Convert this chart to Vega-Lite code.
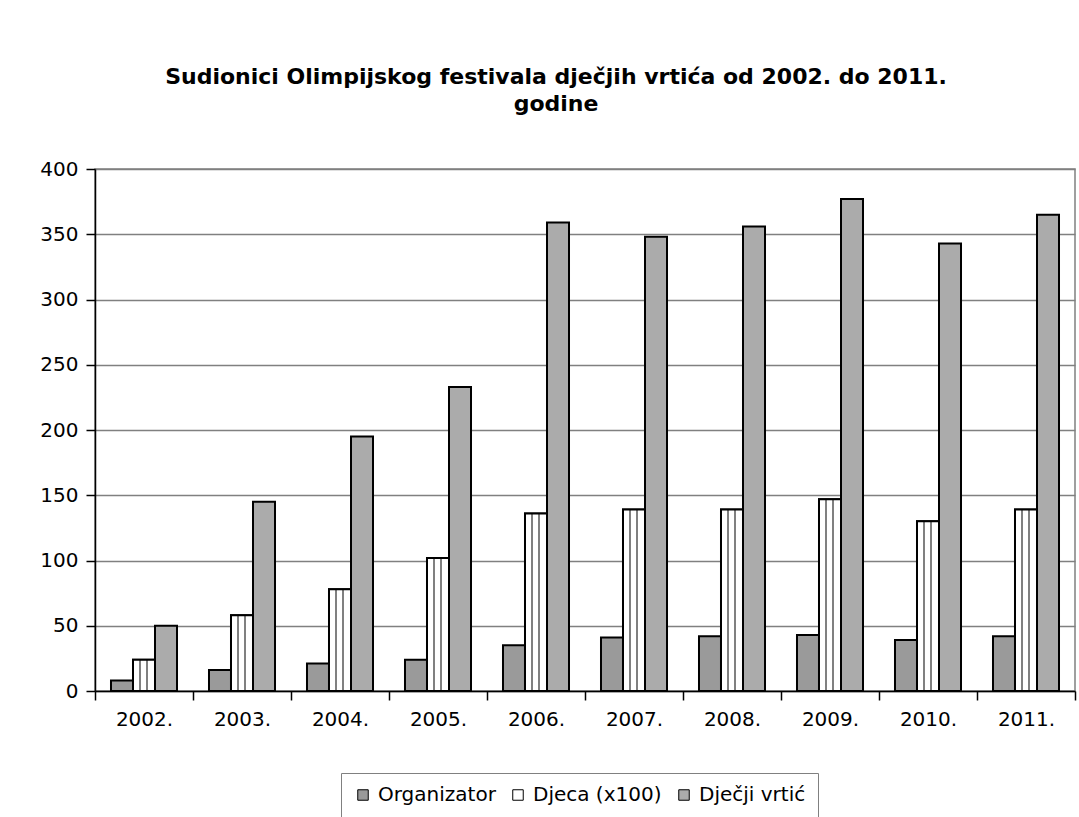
{
  "$schema": "https://vega.github.io/schema/vega-lite/v6.json",
  "autosize": {"type": "none"},
  "width": 980,
  "height": 522,
  "padding": {"left": 95, "top": 169, "right": 4, "bottom": 126},
  "background": "white",
  "title": {
    "text": ["Sudionici Olimpijskog festivala dječjih vrtića od 2002. do 2011.", "godine"],
    "font": "DejaVu Sans",
    "fontSize": 22,
    "fontWeight": "bold",
    "color": "black",
    "anchor": "middle",
    "dx": -29,
    "offset": 43,
    "lineHeight": 27
  },
  "config": {
    "view": {"stroke": "#808080", "strokeWidth": 1.5},
    "font": "DejaVu Sans"
  },
  "data": {
    "values": [
      {"year": "2002.", "series": "Organizator", "value": 8},
      {"year": "2002.", "series": "Djeca (x100)", "value": 24},
      {"year": "2002.", "series": "Dječji vrtić", "value": 50},
      {"year": "2003.", "series": "Organizator", "value": 16},
      {"year": "2003.", "series": "Djeca (x100)", "value": 58},
      {"year": "2003.", "series": "Dječji vrtić", "value": 145},
      {"year": "2004.", "series": "Organizator", "value": 21},
      {"year": "2004.", "series": "Djeca (x100)", "value": 78},
      {"year": "2004.", "series": "Dječji vrtić", "value": 195},
      {"year": "2005.", "series": "Organizator", "value": 24},
      {"year": "2005.", "series": "Djeca (x100)", "value": 102},
      {"year": "2005.", "series": "Dječji vrtić", "value": 233},
      {"year": "2006.", "series": "Organizator", "value": 35},
      {"year": "2006.", "series": "Djeca (x100)", "value": 136},
      {"year": "2006.", "series": "Dječji vrtić", "value": 359},
      {"year": "2007.", "series": "Organizator", "value": 41},
      {"year": "2007.", "series": "Djeca (x100)", "value": 139},
      {"year": "2007.", "series": "Dječji vrtić", "value": 348},
      {"year": "2008.", "series": "Organizator", "value": 42},
      {"year": "2008.", "series": "Djeca (x100)", "value": 139},
      {"year": "2008.", "series": "Dječji vrtić", "value": 356},
      {"year": "2009.", "series": "Organizator", "value": 43},
      {"year": "2009.", "series": "Djeca (x100)", "value": 147},
      {"year": "2009.", "series": "Dječji vrtić", "value": 377},
      {"year": "2010.", "series": "Organizator", "value": 39},
      {"year": "2010.", "series": "Djeca (x100)", "value": 130},
      {"year": "2010.", "series": "Dječji vrtić", "value": 343},
      {"year": "2011.", "series": "Organizator", "value": 42},
      {"year": "2011.", "series": "Djeca (x100)", "value": 139},
      {"year": "2011.", "series": "Dječji vrtić", "value": 365}
    ]
  },
  "encoding": {
    "x": {
      "field": "year",
      "type": "nominal",
      "sort": null,
      "scale": {"paddingInner": 0, "paddingOuter": 0},
      "axis": {
        "title": null,
        "labelAngle": 0,
        "labelFont": "DejaVu Sans",
        "labelFontSize": 20,
        "labelColor": "black",
        "labelPadding": 9,
        "tickBand": "extent",
        "tickSize": 9,
        "tickColor": "black",
        "tickWidth": 1.5,
        "domainColor": "black",
        "domainWidth": 1.5,
        "grid": false
      }
    },
    "xOffset": {
      "field": "series",
      "type": "nominal",
      "scale": {"domain": ["Organizator", "Djeca (x100)", "Dječji vrtić"], "paddingInner": 0, "paddingOuter": 0.727}
    },
    "y": {
      "field": "value",
      "type": "quantitative",
      "scale": {"domain": [0, 400], "nice": false},
      "axis": {
        "title": null,
        "values": [0, 50, 100, 150, 200, 250, 300, 350, 400],
        "labelFont": "DejaVu Sans",
        "labelFontSize": 20,
        "labelColor": "black",
        "labelPadding": 8,
        "tickSize": 9,
        "tickColor": "black",
        "tickWidth": 1.5,
        "domainColor": "black",
        "domainWidth": 1.5,
        "grid": true,
        "gridColor": "#808080",
        "gridWidth": 1.5
      }
    }
  },
  "layer": [
    {
      "mark": {"type": "bar", "stroke": "black", "strokeWidth": 2, "cornerRadius": 0},
      "encoding": {
        "fill": {
          "field": "series",
          "type": "nominal",
          "scale": {"domain": ["Organizator", "Djeca (x100)", "Dječji vrtić"], "range": ["#9a9a9a", "#ffffff", "#ababab"]},
          "legend": {
            "title": null,
            "orient": "none",
            "legendX": 246,
            "legendY": 604,
            "direction": "horizontal",
            "symbolType": "square",
            "symbolSize": 110,
            "symbolStrokeColor": "black",
            "symbolStrokeWidth": 1,
            "labelFontSize": 20,
            "labelColor": "black",
            "labelFont": "DejaVu Sans",
            "labelOffset": 5,
            "columnPadding": 12,
            "strokeColor": "#808080",
            "padding": 12,
            "fillColor": "white"
          }
        }
      }
    },
    {
      "transform": [{"filter": "datum.series === 'Djeca (x100)'"}],
      "mark": {
        "type": "bar",
        "stroke": "black",
        "strokeWidth": 2,
        "fill": {
          "gradient": "linear",
          "x1": 0, "y1": 0, "x2": 1, "y2": 0,
          "stops": [
            {"offset": 0, "color": "#ffffff"},
            {"offset": 0.27, "color": "#ffffff"},
            {"offset": 0.27, "color": "#808080"},
            {"offset": 0.36, "color": "#808080"},
            {"offset": 0.36, "color": "#ffffff"},
            {"offset": 0.58, "color": "#ffffff"},
            {"offset": 0.58, "color": "#808080"},
            {"offset": 0.67, "color": "#808080"},
            {"offset": 0.67, "color": "#ffffff"},
            {"offset": 1, "color": "#ffffff"}
          ]
        }
      }
    }
  ]
}
